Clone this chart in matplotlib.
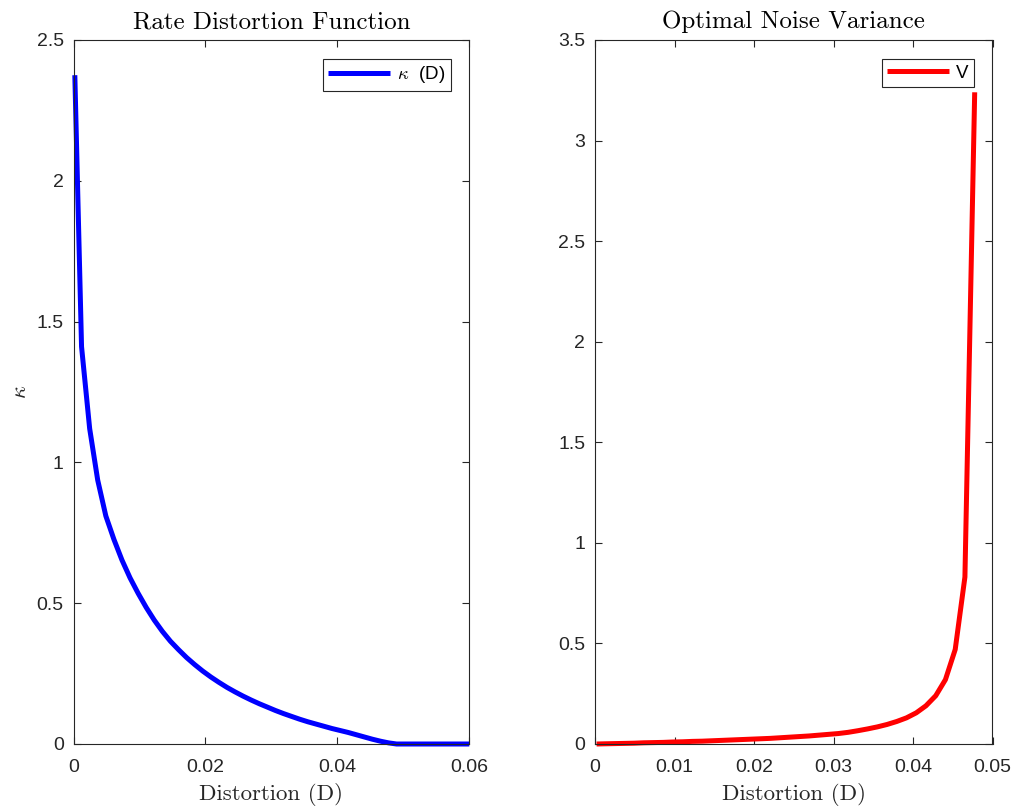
import matplotlib
matplotlib.use("Agg")
import matplotlib.pyplot as plt
from matplotlib.ticker import FuncFormatter

plt.rcParams['mathtext.fontset'] = 'cm'
plt.rcParams['font.family'] = ['Liberation Sans', 'DejaVu Sans']

# ---- data ----
distortion = [0.0002, 0.00122, 0.00245, 0.00367, 0.00490, 0.00612, 0.00735, 0.00857,
              0.00980, 0.01102, 0.01224, 0.01347, 0.01469, 0.01592, 0.01714, 0.01837,
              0.01959, 0.02082, 0.02204, 0.02327, 0.02449, 0.02571, 0.02694, 0.02816,
              0.02939, 0.03061, 0.03184, 0.03306, 0.03429, 0.03551, 0.03673, 0.03796,
              0.03918, 0.04041, 0.04163, 0.04286, 0.04408, 0.04531, 0.04653, 0.04776,
              0.04898, 0.05020, 0.05143, 0.05265, 0.05388, 0.05510, 0.05633, 0.05755,
              0.05878, 0.06000]

kappa = [2.375, 1.411, 1.12, 0.937, 0.81, 0.727, 0.653, 0.59, 0.535, 0.485,
         0.44, 0.40, 0.365, 0.335, 0.307, 0.282, 0.259, 0.238, 0.219, 0.201,
         0.185, 0.170, 0.156, 0.143, 0.131, 0.119, 0.108, 0.098, 0.088, 0.079,
         0.071, 0.063, 0.055, 0.048, 0.041, 0.033, 0.025, 0.017, 0.010, 0.004,
         0, 0, 0, 0, 0, 0, 0, 0, 0, 0]

noise_variance = [0, 0.001, 0.002, 0.003, 0.004, 0.006, 0.007, 0.008, 0.010, 0.011,
                  0.013, 0.014, 0.016, 0.018, 0.020, 0.022, 0.024, 0.026, 0.028, 0.031,
                  0.034, 0.037, 0.040, 0.044, 0.048, 0.052, 0.058, 0.066, 0.075, 0.085,
                  0.097, 0.112, 0.13, 0.155, 0.19, 0.24, 0.32, 0.47, 0.83, 3.24]

left_xticks = [0, 0.02, 0.04, 0.06]
left_yticks = [0, 0.5, 1, 1.5, 2, 2.5]
right_xticks = [0, 0.01, 0.02, 0.03, 0.04, 0.05]
right_yticks = [0, 0.5, 1, 1.5, 2, 2.5, 3, 3.5]

W, H = 1016, 811
fig = plt.figure(figsize=(W / 100, H / 100), dpi=100)

axL = fig.add_axes([73.5 / W, (H - 744) / H, 395.8 / W, 704 / H])
axR = fig.add_axes([595.0 / W, (H - 744) / H, 397.5 / W, 704 / H])

fmt = FuncFormatter(lambda v, p: '%g' % v)
axcol = (0.15, 0.15, 0.15)
serif = 'cmr10'

def style(ax, xt, yt, xlim, ylim):
    ax.set_xlim(*xlim)
    ax.set_ylim(*ylim)
    ax.set_xticks(xt)
    ax.set_yticks(yt)
    ax.xaxis.set_major_formatter(fmt)
    ax.yaxis.set_major_formatter(fmt)
    ax.tick_params(direction='in', top=True, right=True, length=5, width=0.8,
                   colors=axcol, labelsize=14, labelcolor=axcol)
    ax.tick_params(axis='x', pad=10.5)
    ax.tick_params(axis='y', pad=7)
    for s in ax.spines.values():
        s.set_color(axcol)
        s.set_linewidth(0.8)

style(axL, left_xticks, left_yticks, (0, 0.06), (0, 2.5))
style(axR, right_xticks, right_yticks, (0, 0.05), (0, 3.5))

axL.plot(distortion, kappa, color=(0, 0, 1), lw=3.6, solid_capstyle='butt',
         solid_joinstyle='round', clip_on=False, label=r'$\kappa$  (D)')
axR.plot(distortion[:len(noise_variance)], noise_variance, color=(1, 0, 0), lw=3.6,
         solid_capstyle='butt', solid_joinstyle='round', clip_on=False, label='V')

for ax, title in ((axL, 'Rate Distortion Function'), (axR, 'Optimal Noise Variance')):
    ax.set_title(title, fontfamily=serif, fontsize=18, pad=8.5, color='black')
    ax.set_xlabel('Distortion (D)', fontfamily=serif, fontsize=16.5, labelpad=5, color=axcol)
    leg = ax.legend(loc='upper right', bbox_to_anchor=(1, 1), borderaxespad=1.0,
                    fancybox=False, edgecolor=axcol, fontsize=13.5, handlelength=3.3,
                    handletextpad=0.35, borderpad=0.3, framealpha=1)
    leg.get_frame().set_linewidth(0.8)

axL.set_ylabel(r'$\kappa$', fontsize=16, color=axcol)
axL.yaxis.set_label_coords(-0.135, 0.5)
axL.yaxis.label.set_verticalalignment('center')

fig.savefig('out.png', dpi=100, facecolor='white')
